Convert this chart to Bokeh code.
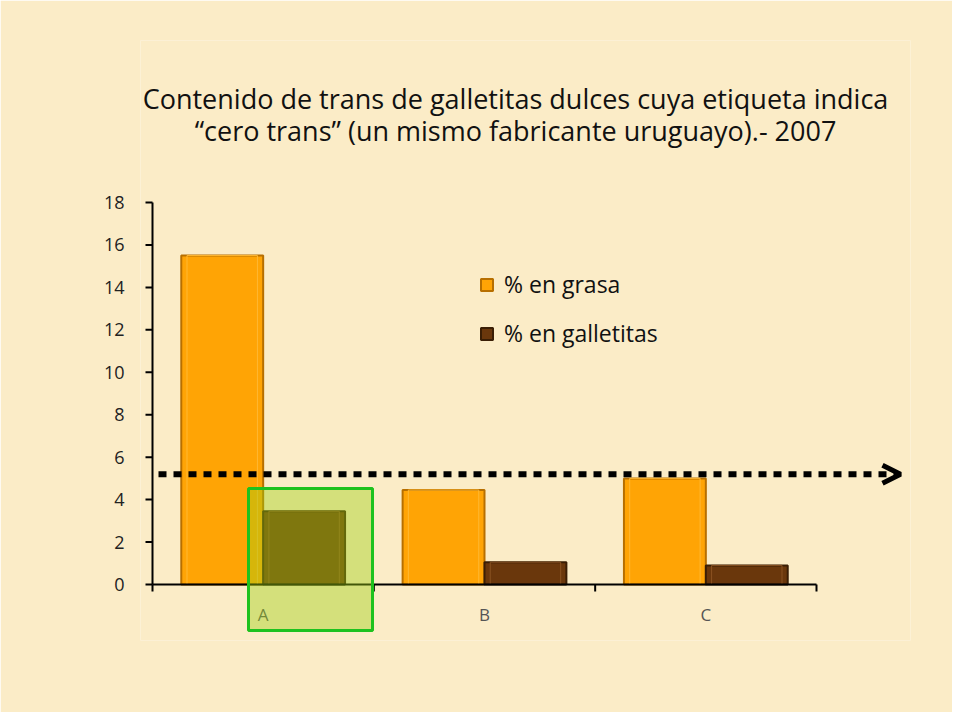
import numpy as np
from bokeh.plotting import figure
from bokeh.models import (ColumnDataSource, FixedTicker, Legend, LegendItem,
                          BoxAnnotation, Arrow, OpenHead, Label, Range1d)
from bokeh.core.properties import value
from bokeh.embed import file_html
from bokeh.resources import INLINE

# ---- data ----
categories = ["A", "B", "C"]
pct_grasa = [15.5, 4.45, 5.0]
pct_galletitas = [3.45, 1.05, 0.9]
y_ticks = [0, 2, 4, 6, 8, 10, 12, 14, 16, 18]
reference_level = 5.2
title_line1 = "Contenido de trans de galletitas dulces cuya etiqueta indica"
title_line2 = "\u201ccero trans\u201d (un mismo fabricante uruguayo).- 2007"
legend_labels = ["% en grasa", "% en galletitas"]

BG = "#FBECC7"
FONT = "Open Sans"

# ---- geometry (pixels) ----
W, H = 952, 712
AX_L, AX_R, AX_T, AX_B = 152, 816, 202, 584      # axes box of the chart
FR_L, FR_R, FR_T, FR_B = 140, 910, 40, 640       # drawing frame (extended)
YMAX = 18.0
ppu_y = (AX_B - AX_T) / YMAX
ppu_x = (AX_R - AX_L) / len(categories)
x0 = (FR_L - AX_L) / ppu_x
x1 = (FR_R - AX_L) / ppu_x
y0 = -(FR_B - AX_B) / ppu_y
y1 = YMAX + (AX_T - FR_T) / ppu_y

centers = np.arange(len(categories)) + 0.5
bounds = np.arange(len(categories) + 1)
bar_w = 0.37
src = ColumnDataSource(dict(
    x_g=centers - bar_w / 2, x_c=centers + bar_w / 2,
    grasa=pct_grasa, gall=pct_galletitas))

p = figure(width=W, height=H, output_backend="svg", toolbar_location=None,
           x_range=Range1d(x0, x1), y_range=Range1d(y0, y1),
           min_border_left=FR_L, min_border_right=W - FR_R,
           min_border_top=FR_T, min_border_bottom=H - FR_B)
p.background_fill_color = BG
p.border_fill_color = BG
p.outline_line_color = None
p.xgrid.visible = False
p.ygrid.visible = False

# bars
r1 = p.vbar(x="x_g", top="grasa", width=bar_w, bottom=0, source=src,
            fill_color="#FFA405", line_color="#B76F00", line_width=2)
r2 = p.vbar(x="x_c", top="gall", width=bar_w, bottom=0, source=src,
            fill_color="#6A370C", line_color="#3A1E05", line_width=2)
p.vbar(x="x_g", top="grasa", width=bar_w * 0.86, bottom=0, source=src,
       fill_color=None, line_color="#FFB833", line_width=1)
p.vbar(x="x_c", top="gall", width=bar_w * 0.86, bottom=0, source=src,
       fill_color=None, line_color="#8A5222", line_width=1)

# y axis: library labels, ticks and line drawn as glyphs at the data extent
p.yaxis.ticker = FixedTicker(ticks=y_ticks)
p.yaxis.axis_line_color = None
p.yaxis.major_tick_line_color = None
p.yaxis.minor_tick_line_color = None
p.yaxis.major_label_standoff = 10
p.yaxis.major_label_text_font = FONT
p.yaxis.major_label_text_font_size = "18px"
p.yaxis.major_label_text_color = "#222222"
p.segment(x0=[0], y0=[0], x1=[0], y1=[y_ticks[-1]], line_color="black", line_width=2)
p.segment(x0=np.zeros(len(y_ticks)), y0=y_ticks,
          x1=np.full(len(y_ticks), -7 / ppu_x), y1=y_ticks,
          line_color="black", line_width=2)

# x axis: baseline, boundary ticks, category labels
p.xaxis.visible = False
p.segment(x0=[bounds[0]], y0=[0], x1=[bounds[-1]], y1=[0], line_color="black", line_width=2)
p.segment(x0=bounds, y0=np.zeros(len(bounds)), x1=bounds,
          y1=np.full(len(bounds), -7 / ppu_y), line_color="black", line_width=2)
p.text(x=centers, y=np.full(len(centers), -30 / ppu_y), text=categories,
       text_font=value(FONT), text_font_size="17px", text_color="#555555",
       text_align="center", text_baseline="middle")

# dotted reference arrow
arrow = Arrow(x_start=(158 - AX_L) / ppu_x, y_start=reference_level,
              x_end=(900 - AX_L) / ppu_x, y_end=reference_level,
              line_color="black", line_width=6, line_dash="8 7",
              end=OpenHead(size=18, line_width=5, line_color="black"))
p.add_layout(arrow)

# green highlight box on A
box = BoxAnnotation(left=(248 - AX_L) / ppu_x, right=(372 - AX_L) / ppu_x,
                    bottom=-(630 - AX_B) / ppu_y, top=(AX_B - 488) / ppu_y,
                    fill_color="#9DCF13", fill_alpha=0.42,
                    line_color="#1EC21E", line_width=3, line_alpha=1)
p.add_layout(box)

# legend
legend = Legend(items=[LegendItem(label=legend_labels[0], renderers=[r1]),
                       LegendItem(label=legend_labels[1], renderers=[r2])],
                location=(481 - FR_L - 2, 291), orientation="vertical",
                background_fill_alpha=0, border_line_color=None,
                label_text_font=FONT, label_text_font_size="23px",
                label_text_color="#111111", glyph_width=15, glyph_height=15,
                spacing=17, padding=0, label_standoff=10)
p.add_layout(legend)

# title (two lines)
tx = (515 - AX_L) / ppu_x
for txt, py in ((title_line1, 98), (title_line2, 130)):
    p.add_layout(Label(x=tx, y=(AX_B - py) / ppu_y, text=txt,
                       text_font=FONT, text_font_size="27px",
                       text_color="#111111", text_align="center",
                       text_baseline="middle"))

open("out.html", "w").write(file_html(p, INLINE))
